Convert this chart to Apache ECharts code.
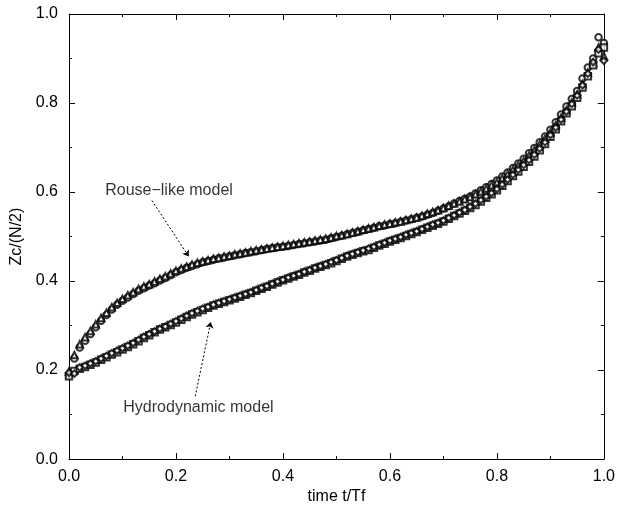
<!DOCTYPE html>
<html>
<head>
<meta charset="utf-8">
<style>html,body{margin:0;padding:0;background:#fff;}#chart{width:618px;height:510px;}</style>
<script src="https://cdn.jsdelivr.net/npm/echarts@6/dist/echarts.min.js"></script>
</head>
<body>
<div id="chart"></div>
<script>
const timeValues = [0.00,0.01,0.02,0.03,0.04,0.05,0.06,0.07,0.08,0.09,0.10,0.11,0.12,0.13,0.14,0.15,0.16,0.17,0.18,0.19,0.20,0.21,0.22,0.23,0.24,0.25,0.26,0.27,0.28,0.29,0.30,0.31,0.32,0.33,0.34,0.35,0.36,0.37,0.38,0.39,0.40,0.41,0.42,0.43,0.44,0.45,0.46,0.47,0.48,0.49,0.50,0.51,0.52,0.53,0.54,0.55,0.56,0.57,0.58,0.59,0.60,0.61,0.62,0.63,0.64,0.65,0.66,0.67,0.68,0.69,0.70,0.71,0.72,0.73,0.74,0.75,0.76,0.77,0.78,0.79,0.80,0.81,0.82,0.83,0.84,0.85,0.86,0.87,0.88,0.89,0.90,0.91,0.92,0.93,0.94,0.95,0.96,0.97,0.98,0.99,1.00];

const rouseSetA = [0.190,0.226,0.251,0.266,0.281,0.296,0.311,0.324,0.336,0.347,0.356,0.363,0.371,0.378,0.384,0.390,0.395,0.401,0.407,0.413,0.420,0.425,0.430,0.434,0.438,0.442,0.445,0.448,0.451,0.453,0.456,0.458,0.460,0.463,0.465,0.467,0.470,0.472,0.474,0.476,0.477,0.479,0.481,0.483,0.485,0.487,0.489,0.491,0.493,0.496,0.499,0.502,0.505,0.508,0.511,0.514,0.517,0.520,0.523,0.525,0.528,0.530,0.533,0.536,0.539,0.542,0.545,0.549,0.553,0.558,0.563,0.568,0.574,0.580,0.585,0.590,0.597,0.604,0.611,0.618,0.626,0.635,0.644,0.654,0.664,0.675,0.687,0.699,0.712,0.725,0.740,0.757,0.774,0.792,0.809,0.827,0.855,0.880,0.900,0.948,0.935];

const rouseSetB = [0.197,0.234,0.258,0.274,0.288,0.303,0.317,0.329,0.341,0.351,0.360,0.368,0.375,0.382,0.388,0.393,0.399,0.405,0.411,0.417,0.423,0.428,0.432,0.437,0.441,0.444,0.447,0.450,0.452,0.455,0.457,0.460,0.462,0.464,0.467,0.469,0.471,0.473,0.475,0.477,0.479,0.481,0.483,0.485,0.487,0.489,0.491,0.493,0.495,0.498,0.501,0.503,0.506,0.509,0.512,0.515,0.518,0.521,0.524,0.527,0.529,0.532,0.534,0.537,0.540,0.543,0.547,0.551,0.555,0.559,0.564,0.569,0.574,0.579,0.584,0.589,0.595,0.601,0.608,0.615,0.622,0.631,0.640,0.650,0.660,0.670,0.682,0.694,0.707,0.720,0.734,0.750,0.767,0.784,0.801,0.819,0.843,0.868,0.890,0.925,0.905];

const hydroSetA = [0.186,0.198,0.203,0.207,0.212,0.217,0.223,0.229,0.235,0.240,0.246,0.252,0.258,0.265,0.272,0.278,0.285,0.291,0.296,0.301,0.307,0.313,0.319,0.325,0.330,0.335,0.340,0.345,0.349,0.353,0.357,0.361,0.365,0.369,0.373,0.378,0.383,0.387,0.392,0.397,0.402,0.406,0.410,0.414,0.419,0.423,0.428,0.432,0.436,0.440,0.445,0.450,0.455,0.459,0.463,0.467,0.470,0.475,0.480,0.484,0.489,0.493,0.497,0.501,0.506,0.510,0.515,0.520,0.524,0.529,0.534,0.540,0.546,0.552,0.558,0.564,0.571,0.579,0.587,0.595,0.604,0.614,0.625,0.636,0.646,0.657,0.668,0.680,0.694,0.708,0.724,0.741,0.759,0.777,0.793,0.812,0.835,0.860,0.885,0.912,0.925];

const hydroSetB = [0.194,0.192,0.206,0.210,0.215,0.220,0.226,0.232,0.238,0.244,0.249,0.255,0.261,0.268,0.275,0.281,0.287,0.293,0.298,0.304,0.310,0.316,0.322,0.328,0.333,0.338,0.342,0.347,0.351,0.355,0.359,0.363,0.367,0.371,0.375,0.380,0.385,0.389,0.394,0.399,0.403,0.408,0.412,0.416,0.421,0.425,0.430,0.434,0.438,0.443,0.447,0.452,0.457,0.461,0.465,0.469,0.473,0.477,0.482,0.486,0.491,0.495,0.499,0.504,0.508,0.512,0.517,0.522,0.527,0.531,0.536,0.542,0.548,0.554,0.560,0.567,0.574,0.582,0.590,0.598,0.607,0.617,0.628,0.639,0.650,0.661,0.672,0.684,0.698,0.712,0.728,0.745,0.763,0.781,0.798,0.817,0.840,0.866,0.892,0.920,0.895];

const xTickLabels = ['0.0','0.2','0.4','0.6','0.8','1.0'];
const yTickLabels = ['0.0','0.2','0.4','0.6','0.8','1.0'];

const annotationLabels = ['Rouse\u2212like model', 'Hydrodynamic model'];
const annotationTextAt = [[0.187, 0.603], [0.242, 0.115]];
const arrowFrom = [[0.155, 0.581], [0.236, 0.141]];
const arrowTo = [[0.224, 0.455], [0.265, 0.308]];

const FONT = 'Liberation Sans, Arial, Helvetica, sans-serif';

function pairs(ys) { return timeValues.map((t, i) => [t, ys[i]]); }

function markerSeries(name, ys, symbol) {
  return {
    name: name, type: 'scatter', data: pairs(ys), symbol: symbol, symbolSize: 6.5,
    itemStyle: { color: '#000', borderColor: '#000', borderWidth: 1.2 },
    silent: true, z: 3
  };
}

const chart = echarts.init(document.getElementById('chart'), null, { renderer: 'canvas' });

function axisCommon() {
  return {
    type: 'value', min: 0, max: 1, interval: 0.2,
    axisLine: { show: true, onZero: false, lineStyle: { color: '#000', width: 1 } },
    axisTick: { show: true, inside: true, length: 6, lineStyle: { color: '#000', width: 1 } },
    minorTick: { show: true, splitNumber: 2, length: 3, lineStyle: { color: '#000', width: 1 } },
    splitLine: { show: false }
  };
}

chart.setOption({
  animation: false,
  backgroundColor: '#fff',
  grid: { left: 69, right: 14, top: 14, bottom: 43, containLabel: false },
  xAxis: [
    Object.assign(axisCommon(), {
      position: 'bottom',
      name: 'time t/Tf', nameLocation: 'middle', nameGap: 28,
      nameTextStyle: { fontFamily: FONT, fontSize: 16, color: '#000' },
      axisLabel: { show: true, margin: 9, fontFamily: FONT, fontSize: 16, color: '#000',
        formatter: (v) => xTickLabels[Math.round(v / 0.2)] }
    }),
    Object.assign(axisCommon(), { position: 'top', axisLabel: { show: false } })
  ],
  yAxis: [
    Object.assign(axisCommon(), {
      position: 'left',
      name: 'Zc/(N/2)', nameLocation: 'middle', nameGap: 44,
      nameTextStyle: { fontFamily: FONT, fontSize: 16, color: '#000' },
      axisLabel: { show: true, margin: 11, fontFamily: FONT, fontSize: 16, color: '#000',
        formatter: (v) => yTickLabels[Math.round(v / 0.2)] }
    }),
    Object.assign(axisCommon(), { position: 'right', axisLabel: { show: false } })
  ],
  series: [
    markerSeries('Rouse A', rouseSetA, 'emptyCircle'),
    markerSeries('Rouse B', rouseSetB, 'emptyTriangle'),
    markerSeries('Hydro A', hydroSetA, 'emptyRect'),
    markerSeries('Hydro B', hydroSetB, 'emptyDiamond'),
    {
      name: 'annotations', type: 'scatter', symbolSize: 0, silent: true, z: 5,
      data: annotationTextAt.map((p, i) => ({ value: p, name: annotationLabels[i] })),
      label: { show: true, position: 'inside', formatter: (p) => p.name,
        fontFamily: FONT, fontSize: 16, color: '#000' },
      markLine: {
        silent: true, symbol: ['none', 'arrow'], symbolSize: 6,
        label: { show: false },
        lineStyle: { type: [2, 2], color: '#000', width: 1 },
        data: arrowFrom.map((p, i) => [{ coord: p }, { coord: arrowTo[i] }])
      }
    }
  ]
});
</script>
</body>
</html>
